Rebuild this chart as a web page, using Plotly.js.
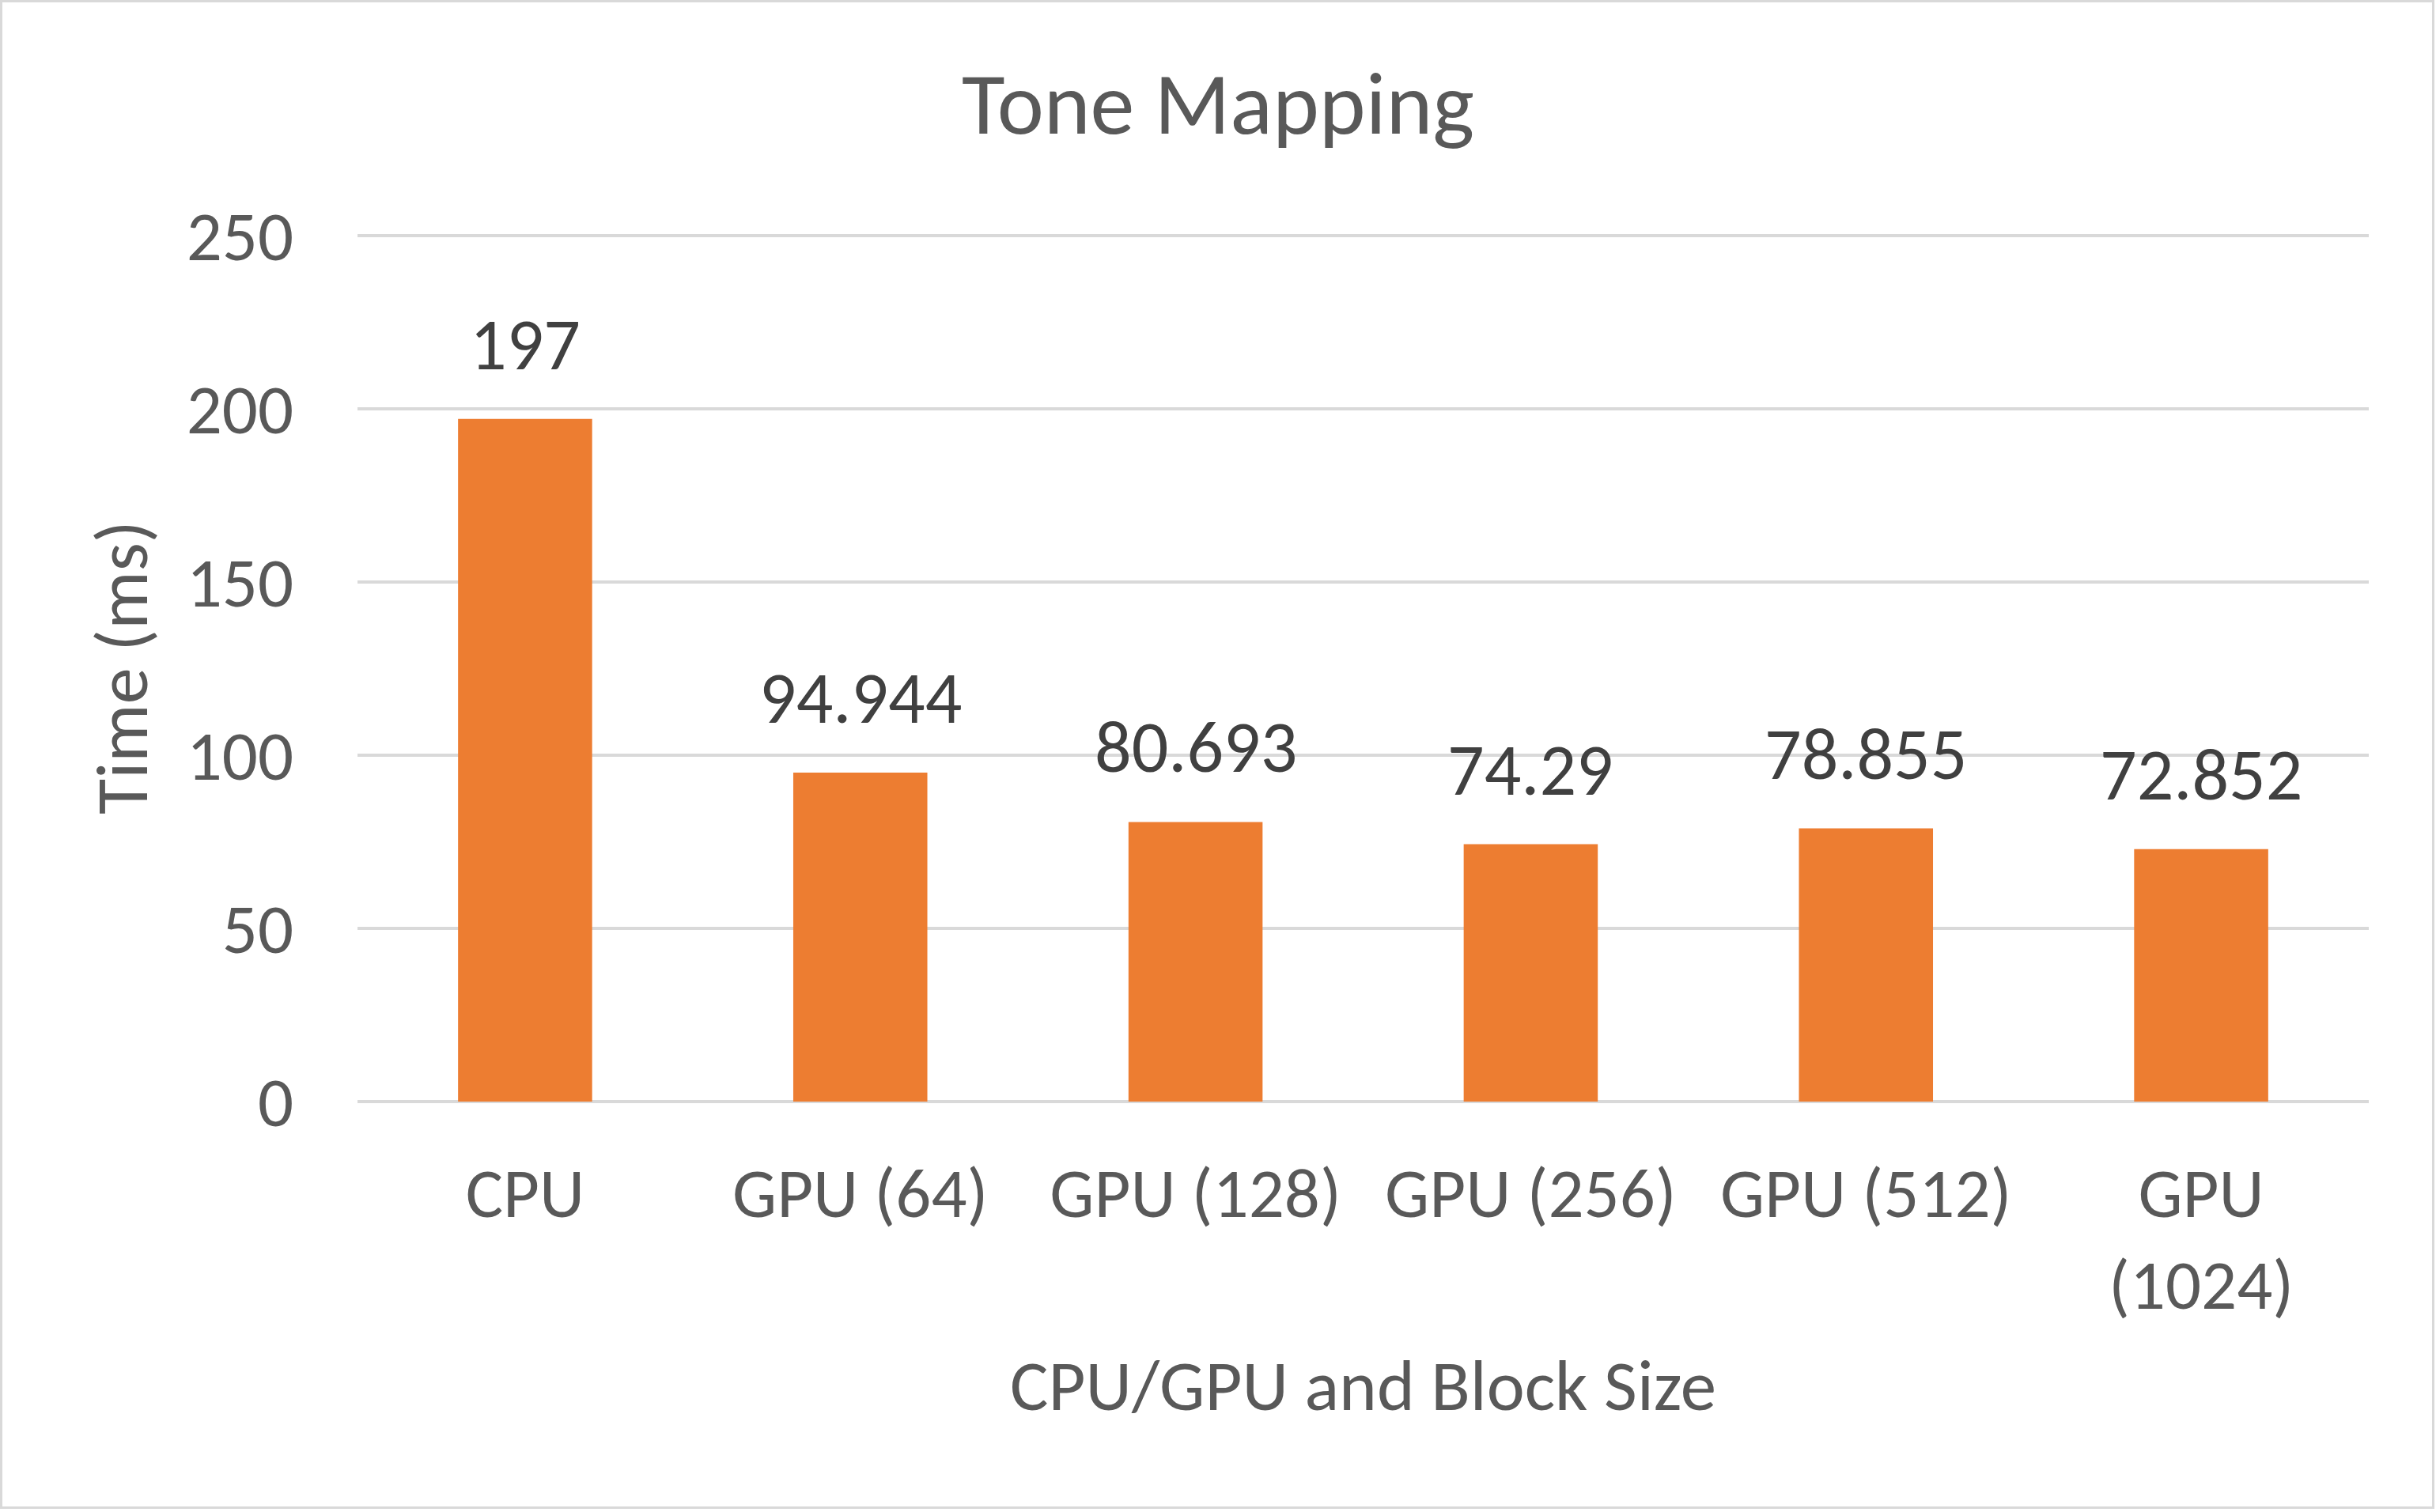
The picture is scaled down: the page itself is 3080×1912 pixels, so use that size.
<!DOCTYPE html>
<html>
<head>
<meta charset="utf-8">
<script src="https://cdn.plot.ly/plotly-3.0.1.min.js"></script>
<style>
html,body{margin:0;padding:0;background:#fff;}
#wrap{position:relative;width:3080px;height:1912px;overflow:hidden;}
#chart{position:absolute;left:0;top:0;width:3080px;height:1912px;}
#frame{position:absolute;left:0;top:0;width:3072px;height:1902px;border:3px solid #d9d9d9;pointer-events:none;}
</style>
</head>
<body>
<div id="wrap"><div id="chart"></div><div id="frame"></div></div>
<script>
const categories = ["CPU", "GPU (64)", "GPU (128)", "GPU (256)", "GPU (512)", "GPU<br>(1024)"];
const times = [197, 94.944, 80.693, 74.29, 78.855, 72.852];
const valueLabels = ["197", "94.944", "80.693", "74.29", "78.855", "72.852"];
const yTicks = [0, 50, 100, 150, 200, 250];

const FONT = "Carlito, Lato, 'Open Sans', sans-serif";

const trace = {
  type: "bar",
  x: categories,
  y: times,
  marker: {color: "#ED7D31"},
  hoverinfo: "none",
  cliponaxis: false
};

const annotations = categories.map((c, i) => ({
  x: c, y: times[i], xref: "x", yref: "y",
  text: valueLabels[i], showarrow: false,
  yanchor: "bottom", yshift: 36,
  font: {family: FONT, size: 92, color: "#404040"}
}));

const layout = {
  width: 3080, height: 1912,
  paper_bgcolor: "#ffffff", plot_bgcolor: "#ffffff",
  margin: {l: 452, r: 85, t: 295, b: 519},
  showlegend: false,
  bargap: 0.6,
  title: {text: "Tone Mapping", x: 0.5, xref: "container", xanchor: "center", y: 1 - 130/1912, yref: "container", yanchor: "middle",
          font: {family: FONT, size: 112, color: "#595959"}},
  xaxis: {
    type: "category",
    showgrid: false, showline: false, zeroline: false, ticks: "",
    tickfont: {family: FONT, size: 89, color: "#595959"},
    ticklabelstandoff: 56,
    title: {text: "CPU/GPU and Block Size", font: {family: FONT, size: 91, color: "#595959"}, standoff: 41}
  },
  yaxis: {
    range: [0, 250.6], tickvals: yTicks, ticktext: yTicks.map(String),
    showgrid: true, gridcolor: "#d9d9d9", gridwidth: 4,
    zeroline: true, zerolinecolor: "#d9d9d9", zerolinewidth: 4,
    showline: false, ticks: "",
    tickfont: {family: FONT, size: 89, color: "#595959"},
    ticklabelstandoff: 80,
    title: {text: "Time (ms)", font: {family: FONT, size: 92, color: "#595959"}, standoff: 18}
  },
  annotations: annotations
};

Plotly.newPlot("chart", [trace], layout, {staticPlot: true, displayModeBar: false});
</script>
</body>
</html>
